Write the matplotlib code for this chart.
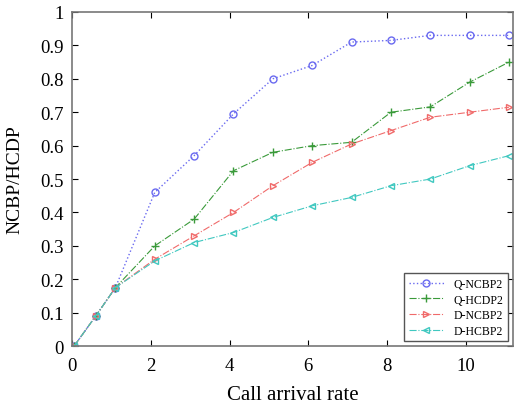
import numpy as np
import matplotlib
matplotlib.use('Agg')
import matplotlib.pyplot as plt

# call arrival rate (sample points)
rate = [0.05, 0.6, 1.1, 2.1, 3.1, 4.1, 5.1, 6.1, 7.1, 8.1, 9.1, 10.1, 11.1]

q_ncbp2 = [0, 0.09, 0.175, 0.46, 0.57, 0.695, 0.80, 0.84, 0.91, 0.915, 0.93, 0.93, 0.93]
q_hcdp2 = [0, 0.09, 0.175, 0.30, 0.38, 0.525, 0.58, 0.60, 0.61, 0.70, 0.716, 0.79, 0.85]
d_ncbp2 = [0, 0.09, 0.175, 0.26, 0.33, 0.40, 0.48, 0.55, 0.605, 0.645, 0.685, 0.70, 0.715]
d_hcbp2 = [0, 0.09, 0.175, 0.255, 0.31, 0.34, 0.385, 0.42, 0.445, 0.48, 0.50, 0.54, 0.57]

labels = ['Q-NCBP2', 'Q-HCDP2', 'D-NCBP2', 'D-HCBP2']

plt.rcParams['font.family'] = ['Liberation Serif', 'DejaVu Serif']

fig = plt.figure(figsize=(5.15, 4.06), dpi=100)
ax = fig.add_axes([0.14, 0.145, 0.856, 0.823])

ax.plot(rate, q_ncbp2, ls=':', color='#6a6af0', marker='o', mfc='none',
        mec='#6a6af0', ms=5, lw=1, label=labels[0])
ax.plot(rate, q_hcdp2, ls='-.', color='#3a9a3a', marker='+', ms=6, lw=0.8,
        label=labels[1])
ax.plot(rate, d_ncbp2, ls='-.', color='#f06a6a', marker='>', mfc='none',
        mec='#f06a6a', ms=5, lw=0.8, label=labels[2])
ax.plot(rate, d_hcbp2, ls='-.', color='#40c8c0', marker='<', mfc='none',
        mec='#40c8c0', ms=5, lw=0.8, label=labels[3])

ax.set_xlim(0, 11.2)
ax.set_ylim(0, 1)
ax.set_xticks([0, 2, 4, 6, 8, 10])
ax.set_yticks(np.arange(0, 1.01, 0.1))
ax.set_yticklabels(['0', '0.1', '0.2', '0.3', '0.4', '0.5', '0.6', '0.7',
                    '0.8', '0.9', '1'])
ax.tick_params(direction='in', top=True, right=True, labelsize=13.5, length=4)
ax.tick_params(axis='x', pad=8)
ax.tick_params(axis='y', pad=6)
for s in ax.spines.values():
    s.set_color('#777777')
    s.set_linewidth(1.2)

ax.set_xlabel('Call arrival rate', fontsize=15, labelpad=8)
ax.set_ylabel('NCBP/HCDP', fontsize=14, labelpad=12)

ax.legend(loc='lower right', fontsize=8.5, fancybox=False, edgecolor='#555555',
          framealpha=1, handlelength=3, borderaxespad=0.4, labelspacing=0.3)

fig.savefig('out.png', dpi=100)
